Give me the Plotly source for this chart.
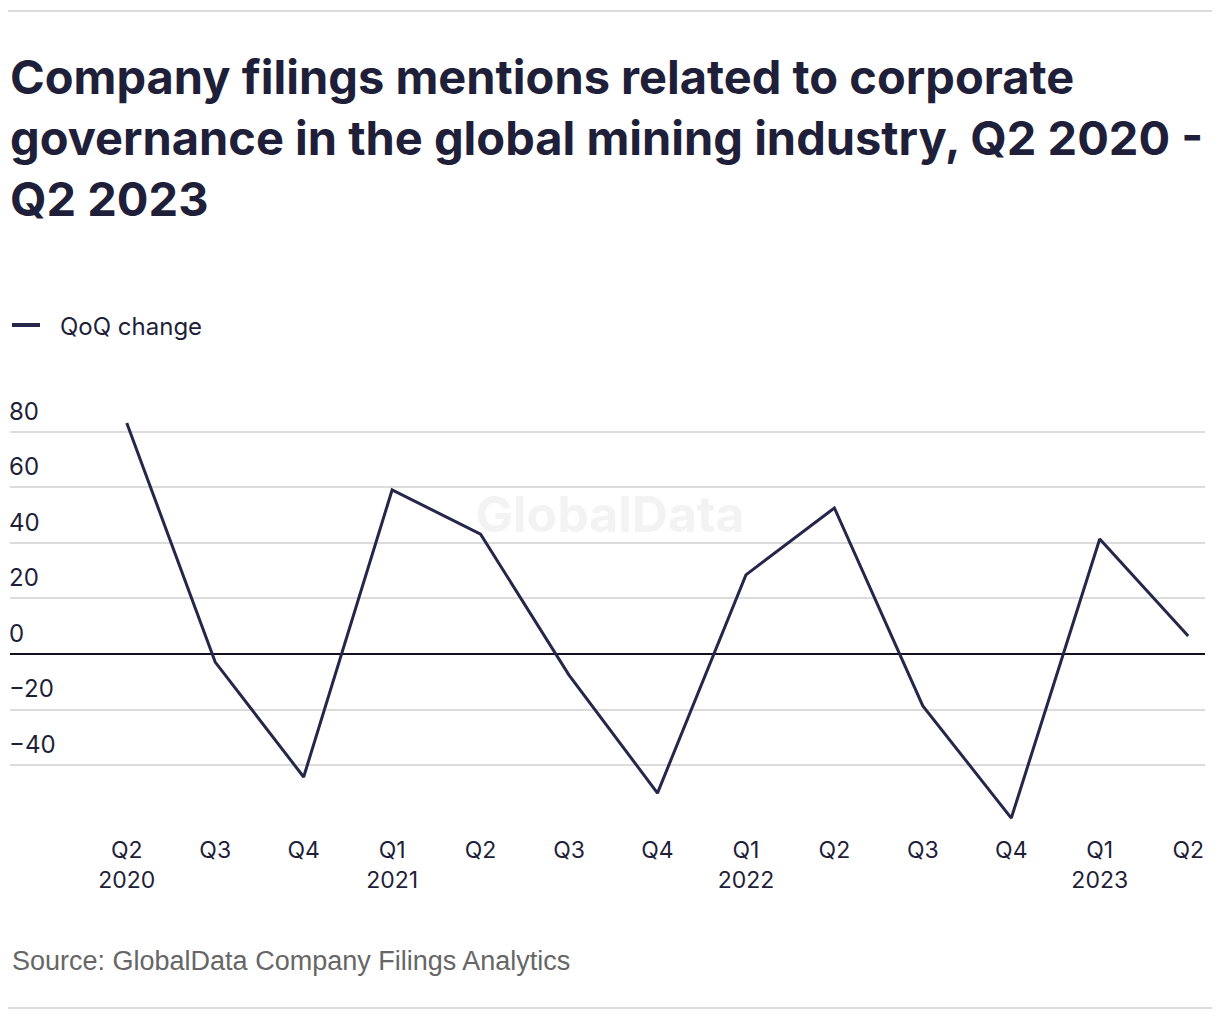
import plotly.graph_objects as go

# ---- data ----
quarters = ["Q2", "Q3", "Q4", "Q1", "Q2", "Q3", "Q4", "Q1", "Q2", "Q3", "Q4", "Q1", "Q2"]
years = ["2020", "", "", "2021", "", "", "", "2022", "", "", "", "2023", ""]
qoq_change = [83.2, -2.9, -44.3, 59.1, 43.2, -7.6, -50.1, 28.5, 52.6, -18.7, -59.1, 41.4, 6.5]
y_ticks = [-40, -20, 0, 20, 40, 60, 80]

series_name = "QoQ change"
title_text = ("Company filings mentions related to corporate<br>"
              "governance in the global mining industry, Q2 2020 -<br>"
              "Q2 2023")
source_text = "Source: GlobalData Company Filings Analytics"
watermark_text = "GlobalData"

DARK = "#1f1f3a"
LINE = "#26264a"
GRID = "#dcdcdc"

x_idx = list(range(len(quarters)))
tick_text = [q + ("<br>" + y if y else "") for q, y in zip(quarters, years)]

fig = go.Figure()
fig.add_trace(go.Scatter(
    x=x_idx, y=qoq_change, mode="lines", name=series_name,
    line=dict(color=LINE, width=3),
    hoverinfo="skip", showlegend=False,
))

W, H = 1220, 1020
OFF = 8  # page offset of the rendered figure
ML, MR, MT, MB = 10 - OFF, 15 + OFF, 395 - OFF, 195 + OFF
PW, PH = W - ML - MR, H - MT - MB

def px_x(p):
    return (p - OFF - ML) / PW

def px_y(p):
    return (H - MB - (p - OFF)) / PH

fig.update_layout(
    width=W, height=H,
    margin=dict(l=ML, r=MR, t=MT, b=MB, autoexpand=False),
    paper_bgcolor="white", plot_bgcolor="white",
    font=dict(family="Inter, Roboto, sans-serif", size=22, color=DARK),
    title=dict(
        text=title_text, x=px_x(10), xref="paper", xanchor="left",
        y=1 - 86 / H, yref="container", yanchor="top",
        font=dict(family="Inter, sans-serif", size=47, color=DARK, weight="bold"),
    ),
    showlegend=False,
    xaxis=dict(
        tickmode="array", tickvals=x_idx, ticktext=tick_text,
        range=[-1.32, 12.19], showgrid=False, zeroline=False, showline=False,
        ticks="", tickfont=dict(size=23, color=DARK), fixedrange=True,
        automargin=False, ticklabelstandoff=9,
    ),
    yaxis=dict(
        tickmode="array", tickvals=y_ticks,
        ticktext=[("\u2212" + str(abs(v))) if v < 0 else str(v) for v in y_ticks],
        range=[-61.6, 93.3], showgrid=True, gridcolor=GRID, gridwidth=1.5,
        zeroline=True, zerolinecolor="#111122", zerolinewidth=1.5,
        showline=False, ticks="", ticklabelposition="inside top",
        ticklabelstandoff=-4, ticklabelshift=-4,
        tickfont=dict(size=24, color=DARK), fixedrange=True,
        automargin=False,
    ),
)

# legend (drawn as key line + label)
fig.add_shape(type="line", xref="paper", yref="paper",
              x0=px_x(12), x1=px_x(40), y0=px_y(325), y1=px_y(325),
              line=dict(color=LINE, width=4))
fig.add_annotation(text=series_name, xref="paper", yref="paper",
                   x=px_x(58), y=px_y(326), xanchor="left", yanchor="middle",
                   showarrow=False, font=dict(size=24, color=DARK))

# top and bottom rules
fig.add_shape(type="line", xref="paper", yref="paper",
              x0=px_x(4), x1=px_x(1216), y0=px_y(11), y1=px_y(11),
              line=dict(color=GRID, width=2))
fig.add_shape(type="line", xref="paper", yref="paper",
              x0=px_x(4), x1=px_x(1216), y0=px_y(1008), y1=px_y(1008),
              line=dict(color=GRID, width=2))

# watermark (behind the data)
fig.add_shape(type="rect", xref="paper", yref="paper", layer="below",
              x0=px_x(460), x1=px_x(760), y0=px_y(540), y1=px_y(484),
              line=dict(width=0), fillcolor="rgba(0,0,0,0)",
              label=dict(text=watermark_text, textposition="middle center",
                         font=dict(family="Inter, sans-serif", size=50,
                                   color="#f3f3f3", weight="bold")))

# source
fig.add_annotation(text=source_text, xref="paper", yref="paper",
                   x=px_x(10), y=px_y(961), xanchor="left", yanchor="middle",
                   showarrow=False,
                   font=dict(family="Liberation Sans, Arial, sans-serif", size=27, color="#666666"))

fig.write_html("out.html")
